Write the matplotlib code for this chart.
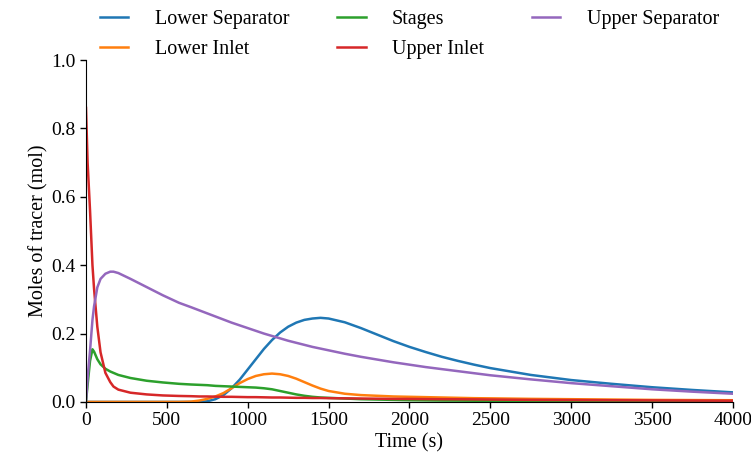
import numpy as np
import matplotlib
matplotlib.use("Agg")
import matplotlib.pyplot as plt

plt.rcParams["font.family"] = ["Liberation Serif", "DejaVu Serif"]

# time grid (s)
time_s = [0, 10, 25, 40, 50, 70, 90, 120, 150, 170,
          200, 275, 375, 475, 575, 650, 700, 750, 800, 850,
          900, 950, 1000, 1050, 1100, 1150, 1200, 1250, 1300, 1350,
          1400, 1450, 1500, 1600, 1700, 1800, 1900, 2000, 2100, 2200,
          2300, 2400, 2500, 2750, 3000, 3250, 3500, 3750, 4000]

lower_separator = [0, 0, 0, 0, 0, 0, 0, 0, 0, 0,
                   0, 0, 0, 0, 0, 0, 0, 0.002, 0.008, 0.02,
                   0.04, 0.065, 0.095, 0.125, 0.155, 0.181, 0.203, 0.22, 0.232, 0.24,
                   0.244, 0.246, 0.244, 0.233, 0.216, 0.197, 0.178, 0.161, 0.146, 0.132,
                   0.12, 0.109, 0.099, 0.079, 0.064, 0.053, 0.043, 0.035, 0.028]

lower_inlet = [0, 0, 0, 0, 0, 0, 0, 0, 0, 0,
               0, 0, 0, 0, 0, 0.001, 0.004, 0.009, 0.016, 0.026,
               0.04, 0.055, 0.067, 0.076, 0.081, 0.083, 0.081, 0.076, 0.068, 0.058,
               0.048, 0.039, 0.032, 0.024, 0.02, 0.018, 0.016, 0.015, 0.014, 0.013,
               0.012, 0.011, 0.0105, 0.009, 0.008, 0.007, 0.006, 0.0055, 0.005]

stages = [0, 0.05, 0.12, 0.154, 0.147, 0.125, 0.11, 0.097, 0.089, 0.085,
          0.079, 0.07, 0.062, 0.057, 0.053, 0.051, 0.05, 0.049, 0.047, 0.046,
          0.045, 0.044, 0.043, 0.042, 0.04, 0.037, 0.032, 0.027, 0.022, 0.018,
          0.015, 0.013, 0.012, 0.01, 0.008, 0.007, 0.006, 0.005, 0.0045, 0.004,
          0.0038, 0.0035, 0.003, 0.0025, 0.002, 0.002, 0.0015, 0.0015, 0.001]

upper_inlet = [0.86, 0.70, 0.56, 0.40, 0.33, 0.22, 0.145, 0.085, 0.058, 0.045,
               0.036, 0.027, 0.022, 0.019, 0.0175, 0.0168, 0.016, 0.016, 0.0155, 0.015,
               0.015, 0.0145, 0.014, 0.014, 0.0135, 0.013, 0.013, 0.0125, 0.012, 0.012,
               0.0115, 0.0115, 0.011, 0.0105, 0.01, 0.0095, 0.009, 0.0088, 0.0084, 0.008,
               0.0078, 0.0075, 0.007, 0.006, 0.0055, 0.005, 0.0045, 0.004, 0.0035]

upper_separator = [0, 0.07, 0.15, 0.24, 0.28, 0.335, 0.36, 0.375, 0.381, 0.381,
                   0.377, 0.36, 0.336, 0.312, 0.29, 0.277, 0.268, 0.259, 0.25, 0.241,
                   0.232, 0.224, 0.216, 0.208, 0.2, 0.193, 0.186, 0.179, 0.173, 0.167,
                   0.161, 0.156, 0.151, 0.141, 0.132, 0.124, 0.116, 0.109, 0.102, 0.096,
                   0.09, 0.084, 0.078, 0.066, 0.055, 0.046, 0.037, 0.03, 0.024]

series = [("Lower Separator", lower_separator, "#1f77b4"),
          ("Lower Inlet", lower_inlet, "#ff7f0e"),
          ("Stages", stages, "#2ca02c"),
          ("Upper Inlet", upper_inlet, "#d62728"),
          ("Upper Separator", upper_separator, "#9467bd")]

fig = plt.figure(figsize=(7.51, 4.62), dpi=100)
ax = fig.add_axes([0.1145, 0.130, 0.8615, 0.740])

for name, vals, col in series:
    ax.plot(time_s, vals, color=col, lw=1.8, label=name)

ax.set_xlim(0, 4000)
ax.set_ylim(0, 1.0)
ax.set_xticks(np.arange(0, 4001, 500))
ax.set_yticks(np.arange(0, 1.01, 0.2))
ax.set_yticklabels([f"{v:.1f}" for v in np.arange(0, 1.01, 0.2)])
ax.tick_params(direction="out", length=4, width=1, labelsize=14)
ax.spines["top"].set_visible(False)
ax.spines["right"].set_visible(False)

ax.set_xlabel("Time (s)", fontsize=14.5, labelpad=3)
ax.set_ylabel("Moles of tracer (mol)", fontsize=14.5, labelpad=2)

ax.legend(loc="lower center", bbox_to_anchor=(0.5, 0.98), ncol=3, frameon=False,
          fontsize=14.5, handlelength=1.4, handletextpad=1.3, columnspacing=2.4,
          labelspacing=0.55, borderaxespad=0.0)

fig.savefig("out.png", dpi=100)
